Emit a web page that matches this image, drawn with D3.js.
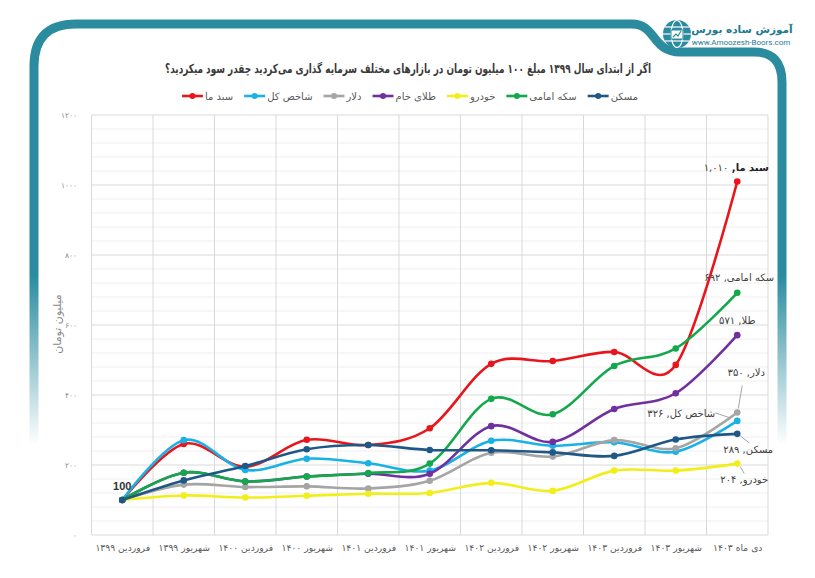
<!doctype html>
<html lang="fa">
  <head>
    <meta charset="utf-8">
    <title>بازده بازارها</title>
    <style>
      body { margin: 0; background: #fff; }
      .fa { font-family: "DejaVu Sans", sans-serif; direction: rtl; }
    </style>
  </head>
  <body>
    <div id="chart"></div>

    <script src="https://d3js.org/d3.v7.min.js"></script>
    <script type="text/javascript">
      // months on the x axis
      const months = ["فروردین 1399", "شهریور 1399", "فروردین 1400", "شهریور 1400", "فروردین 1401",
                      "شهریور 1401", "فروردین 1402", "شهریور 1402", "فروردین 1403", "شهریور 1403", "دی ماه 1403"];

      // value of 100 million toman, per market
      const sabadMa = [100, 260, 195, 272, 257, 305, 489, 497, 523, 486, 1010];
      const shakhes = [100, 271, 186, 218, 205, 184, 269, 255, 265, 238, 326];
      const dollar  = [100, 144, 137, 139, 133, 155, 235, 224, 271, 248, 350];
      const tala    = [100, 178, 153, 167, 175, 175, 311, 266, 360, 405, 571];
      const khodro  = [100, 113, 107, 112, 118, 120, 149, 126, 184, 184, 204];
      const sekke   = [100, 178, 153, 167, 177, 204, 389, 345, 483, 533, 692];
      const maskan  = [100, 156, 197, 245, 257, 243, 242, 236, 226, 273, 289];

      const seriesNames = ["سبد ما", "شاخص کل", "دلار", "طلای خام", "خودرو", "سکه امامی", "مسکن"];
      const endNames    = ["سبد ما", "شاخص کل", "دلار", "طلا", "خودرو", "سکه امامی", "مسکن"];
      const seriesValues = [sabadMa, shakhes, dollar, tala, khodro, sekke, maskan];
      const seriesColors = ["#e8161c", "#19b2e6", "#a5a5a5", "#7030a0", "#f2ee1c", "#13a84c", "#1f5886"];

      const yTicks = [0, 200, 400, 600, 800, 1000, 1200];

      const w = 815;
      const h = 578;
      const teal = "#2b8c9f";

      const fa = s => String(s).replace(/\d/g, d => "۰۱۲۳۴۵۶۷۸۹"[d]);

      const svg = d3.select('#chart')
                    .append('svg')
                    .attr("width", w)
                    .attr("height", h);

      // frame
      const defs = svg.append('defs');
      const grad = defs.append('linearGradient')
        .attr('id', 'fade')
        .attr('gradientUnits', 'userSpaceOnUse')
        .attr('x1', 0).attr('y1', 0).attr('x2', 0).attr('y2', 445);
      grad.append('stop').attr('offset', 0).attr('stop-color', teal).attr('stop-opacity', 1);
      grad.append('stop').attr('offset', 0.62).attr('stop-color', teal).attr('stop-opacity', 1);
      grad.append('stop').attr('offset', 1).attr('stop-color', teal).attr('stop-opacity', 0);

      svg.append('path')
        .attr('d', "M34,445 L34,66 Q34,24 76,24 L632,24 C656,24 652,52 680,52 L754,52 Q782,52 782,82 L782,445")
        .attr('fill', 'none')
        .attr('stroke', 'url(#fade)')
        .attr('stroke-width', 9);

      // logo
      const logo = svg.append('g').attr('transform', 'translate(677,34)');
      logo.append('circle').attr('r', 14).attr('fill', teal);
      logo.append('ellipse').attr('rx', 6).attr('ry', 13.5).attr('fill', 'none').attr('stroke', '#fff').attr('stroke-width', 1.2);
      logo.append('line').attr('x1', -14).attr('x2', 14).attr('stroke', '#fff').attr('stroke-width', 1.2);
      logo.append('line').attr('x1', -12).attr('x2', 12).attr('y1', -7).attr('y2', -7).attr('stroke', '#fff').attr('stroke-width', 1.2);
      logo.append('line').attr('x1', -12).attr('x2', 12).attr('y1', 7).attr('y2', 7).attr('stroke', '#fff').attr('stroke-width', 1.2);
      logo.append('rect').attr('x', -6).attr('y', -4).attr('width', 12).attr('height', 9).attr('fill', '#fff').attr('stroke', teal);
      logo.append('path').attr('d', "M-4,3 L-1,0 L1,2 L4,-3").attr('fill', 'none').attr('stroke', teal).attr('stroke-width', 1.2);

      svg.append('text').attr('class', 'fa')
        .attr('x', 742).attr('y', 33)
        .attr('text-anchor', 'middle')
        .attr('font-size', 10.5).attr('font-weight', 'bold')
        .attr('fill', '#1e7a91')
        .text("آموزش ساده بورس");
      svg.append('text')
        .attr('x', 741).attr('y', 45)
        .attr('text-anchor', 'middle')
        .attr('font-family', 'Roboto, sans-serif')
        .attr('font-size', 8)
        .attr('fill', '#1e7a91')
        .text("www.Amoozesh-Boors.com");

      // title
      svg.append('text').attr('class', 'fa')
        .attr('x', 408).attr('y', 73)
        .attr('text-anchor', 'middle')
        .attr('font-size', 12.5).attr('font-weight', 'bold')
        .attr('fill', '#3a3a3a')
        .attr('textLength', 486).attr('lengthAdjust', 'spacingAndGlyphs')
        .text(fa("اگر از ابتدای سال 1399 مبلغ 100 میلیون تومان در بازارهای مختلف سرمایه گذاری می‌کردید چقدر سود میکردید؟"));

      // scales
      const x = d3.scalePoint()
                  .domain(d3.range(months.length))
                  .range([91.5, 768])
                  .padding(0.5);
      const y = d3.scaleLinear()
                  .domain([0, 1200])
                  .range([535, 115]);
      const step = x.step();

      // grid
      const grid = svg.append('g');
      grid.selectAll('.minor')
        .data(d3.range(40, 1200, 40).filter(v => v % 200 !== 0))
        .enter()
        .append('line')
        .attr('x1', 91.5).attr('x2', 768)
        .attr('y1', d => y(d)).attr('y2', d => y(d))
        .attr('stroke', '#efefef');
      grid.selectAll('.major')
        .data(yTicks)
        .enter()
        .append('line')
        .attr('x1', 91.5).attr('x2', 768)
        .attr('y1', d => y(d)).attr('y2', d => y(d))
        .attr('stroke', '#d9d9d9');
      grid.selectAll('.vert')
        .data(d3.range(months.length + 1))
        .enter()
        .append('line')
        .attr('x1', d => 91.5 + d * step).attr('x2', d => 91.5 + d * step)
        .attr('y1', y(0)).attr('y2', y(1200))
        .attr('stroke', '#d9d9d9');

      // axes
      const yAxis = svg.append('g')
        .attr('transform', 'translate(80,0)')
        .call(d3.axisLeft(y).tickValues(yTicks).tickSize(0).tickFormat(fa));
      yAxis.select('.domain').remove();
      yAxis.selectAll('text')
        .attr('font-family', '"DejaVu Sans", sans-serif')
        .attr('font-size', 7.5)
        .attr('fill', '#8a8a8a')
        .attr('dx', 0);

      const xAxis = svg.append('g')
        .attr('transform', 'translate(0,541)')
        .call(d3.axisBottom(x).tickSize(0).tickFormat(i => fa(months[i])));
      xAxis.select('.domain').remove();
      xAxis.selectAll('text')
        .attr('class', 'fa')
        .attr('font-size', 9.2)
        .attr('fill', '#595959');

      svg.append('text').attr('class', 'fa')
        .attr('transform', 'translate(61,324) rotate(-90)')
        .attr('text-anchor', 'middle')
        .attr('font-size', 11)
        .attr('fill', '#8a8a8a')
        .text("میلیون تومان");

      // lines
      const line = d3.line()
        .x((d, i) => x(i))
        .y(d => y(d))
        .curve(d3.curveCardinal.tension(0));

      seriesValues.forEach((vals, k) => {
        svg.append('path')
          .datum(vals)
          .attr('d', line)
          .attr('fill', 'none')
          .attr('stroke', seriesColors[k])
          .attr('stroke-width', 2.6);
        svg.selectAll('.dot' + k)
          .data(vals)
          .enter()
          .append('circle')
          .attr('cx', (d, i) => x(i))
          .attr('cy', d => y(d))
          .attr('r', 3.3)
          .attr('fill', seriesColors[k]);
      });

      // start label
      svg.append('text')
        .attr('x', x(0)).attr('y', y(sabadMa[0]) - 10)
        .attr('text-anchor', 'middle')
        .attr('font-family', '"Liberation Sans", sans-serif')
        .attr('font-weight', 'bold')
        .attr('font-size', 11)
        .attr('fill', '#333')
        .text(sabadMa[0]);

      // end labels: offset of the text and of the leader line from the last point
      const endLayout = [
        { dx: -1, dy: -11 },
        { dx: -56, dy: -4, lead: [-22, -8, -7, -3] },
        { dx: 9, dy: -37, lead: [5, -27, 1, -4] },
        { dx: 0, dy: -11 },
        { dx: 7, dy: 19, lead: [3, 3, 7, 10] },
        { dx: 2, dy: -12 },
        { dx: 11, dy: 19, lead: [3, 2, 12, 9] }
      ];
      const last = months.length - 1;
      const fmt = d3.format(",");

      seriesValues.forEach((vals, k) => {
        const px = x(last), py = y(vals[last]);
        const L = endLayout[k];
        const t = svg.append('text').attr('class', 'fa')
          .attr('x', px + L.dx).attr('y', py + L.dy)
          .attr('text-anchor', 'middle')
          .attr('font-size', 10)
          .attr('fill', '#404040');
        t.append('tspan')
          .attr('font-weight', k === 0 ? 'bold' : 'normal')
          .attr('fill', k === 0 ? '#222' : '#404040')
          .text(endNames[k] + ", ");
        t.append('tspan').text(fa(fmt(vals[last])));
        if (L.lead) {
          svg.append('line')
            .attr('x1', px + L.lead[0]).attr('y1', py + L.lead[1])
            .attr('x2', px + L.lead[2]).attr('y2', py + L.lead[3])
            .attr('stroke', '#a6a6a6')
            .attr('stroke-width', 1);
        }
      });

      // legend, laid out right to left
      const legend = svg.append('g');
      let xr = 0;
      for (let k = seriesNames.length - 1; k >= 0; k--) {
        const g = legend.append('g');
        const txt = g.append('text').attr('class', 'fa')
          .attr('text-anchor', 'middle')
          .attr('font-size', 10)
          .attr('fill', '#595959')
          .text(seriesNames[k]);
        const tw = txt.node().getComputedTextLength();
        txt.attr('x', xr - tw / 2).attr('y', 4);
        const m0 = xr - tw - 23, m1 = xr - tw - 2;
        g.append('line')
          .attr('x1', m0).attr('x2', m1)
          .attr('stroke', seriesColors[k]).attr('stroke-width', 2.6);
        g.append('circle')
          .attr('cx', (m0 + m1) / 2).attr('r', 3)
          .attr('fill', seriesColors[k]);
        xr = m0 - 11;
      }
      const legW = -(xr + 11);
      legend.attr('transform', `translate(${410 + legW / 2},96)`);
    </script>
  </body>
</html>
